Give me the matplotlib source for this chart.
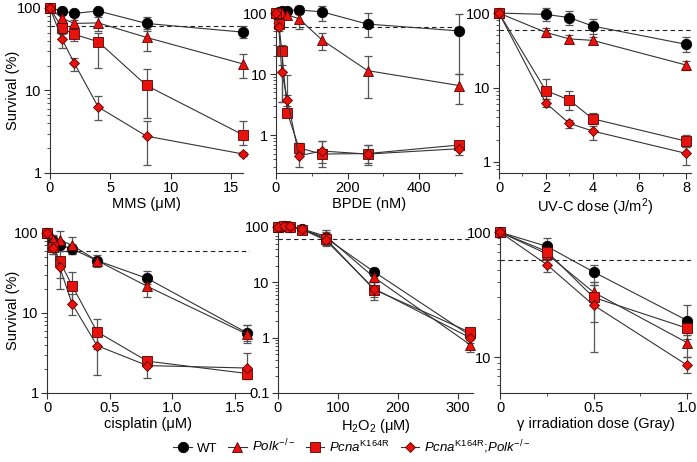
import matplotlib
matplotlib.use("Agg")
import matplotlib.pyplot as plt
import numpy as np
from matplotlib.lines import Line2D
from matplotlib.ticker import LogLocator, NullFormatter, FixedLocator

plt.rcParams['font.family'] = ['Liberation Sans', 'DejaVu Sans']
plt.rcParams['mathtext.fontset'] = 'custom'
plt.rcParams['mathtext.rm'] = 'Liberation Sans'
plt.rcParams['mathtext.it'] = 'Liberation Sans:italic'
plt.rcParams['mathtext.bf'] = 'Liberation Sans:bold'

genotypes = ['WT', 'Polk', 'Pcna', 'Double']

# ---- MMS ----
mms_x = [0, 1, 2, 4, 8, 16]
mms_wt = [100, 92, 86, 92, 65, 51]
mms_wt_lo = [100, 88, 80, 85, 52, 43]
mms_wt_hi = [100, 96, 92, 98, 78, 60]
mms_polk = [100, 75, 65, 66, 44, 21]
mms_polk_lo = [100, 68, 58, 52, 30, 14]
mms_polk_hi = [100, 82, 72, 78, 55, 28]
mms_pcna = [100, 57, 48, 39, 11.5, 2.9]
mms_pcna_lo = [100, 48, 40, 19, 4.6, 2.2]
mms_pcna_hi = [100, 68, 58, 50, 18, 4.3]
mms_dbl = [100, 41.7, 21.7, 6.3, 2.8, 1.7]
mms_dbl_lo = [100, 33, 17, 4.4, 1.25, 1.6]
mms_dbl_hi = [100, 50, 25, 8.5, 4.3, 1.8]

# ---- BPDE ----
bpde_x = [0, 8, 16, 32, 64, 128, 256, 512]
bpde_wt = [100, 105, 108, 110, 112, 105, 66, 51]
bpde_wt_lo = [100, 98, 100, 100, 95, 75, 40, 10]
bpde_wt_hi = [100, 112, 116, 120, 130, 130, 100, 96]
bpde_polk = [100, 100, 100, 93, 81, 36.5, 11.4, 6.5]
bpde_polk_lo = [100, 94, 94, 80, 55, 25, 4, 3.3]
bpde_polk_hi = [100, 106, 106, 105, 100, 48, 20, 10]
bpde_pcna = [100, 67, 24, 2.3, 0.62, 0.49, 0.5, 0.69]
bpde_pcna_lo = [100, 55, 3.5, 2.0, 0.5, 0.35, 0.35, 0.6]
bpde_pcna_hi = [100, 80, 30, 9.5, 0.75, 0.8, 0.7, 0.75]
bpde_dbl = [100, 58, 11, 3.8, 0.46, 0.55, 0.49, 0.6]
bpde_dbl_lo = [100, 50, 3.5, 3.0, 0.3, 0.3, 0.33, 0.47]
bpde_dbl_hi = [100, 68, 14, 4.5, 0.6, 0.8, 0.7, 0.72]

# ---- UV-C ----
uv_x = [0, 2, 3, 4, 8]
uv_wt = [100, 96, 87, 67, 38]
uv_wt_lo = [100, 78, 70, 52, 30]
uv_wt_hi = [100, 118, 105, 84, 47]
uv_polk = [100, 55, 45, 43, 20]
uv_polk_lo = [100, 48, 40, 38, 17]
uv_polk_hi = [100, 63, 50, 48, 23]
uv_pcna = [100, 9.1, 6.8, 3.8, 1.9]
uv_pcna_lo = [100, 7.0, 5.0, 3.2, 1.6]
uv_pcna_hi = [100, 13, 9.0, 4.6, 2.3]
uv_dbl = [100, 6.2, 3.3, 2.6, 1.3]
uv_dbl_lo = [100, 5.5, 2.9, 2.0, 0.9]
uv_dbl_hi = [100, 7.0, 3.7, 3.0, 1.6]

# ---- cisplatin ----
cis_x = [0, 0.05, 0.1, 0.2, 0.4, 0.8, 1.6]
cis_wt = [100, 79, 71, 63, 45, 27, 5.6]
cis_wt_lo = [100, 65, 60, 55, 40, 23, 4.5]
cis_wt_hi = [100, 92, 82, 72, 50, 33, 7.0]
cis_polk = [100, 85, 82, 70, 45, 21.5, 5.4]
cis_polk_lo = [100, 75, 60, 55, 38, 16, 4.2]
cis_polk_hi = [100, 95, 105, 90, 53, 27, 7.0]
cis_pcna = [100, 67, 45, 22, 5.8, 2.5, 1.75]
cis_pcna_lo = [100, 55, 20, 13, 3.5, 2.2, 1.5]
cis_pcna_hi = [100, 80, 60, 32, 8.3, 2.8, 2.0]
cis_dbl = [100, 65, 38, 13, 3.9, 2.2, 2.05]
cis_dbl_lo = [100, 55, 27, 9.5, 1.7, 1.55, 1.5]
cis_dbl_hi = [100, 75, 48, 17, 5.5, 2.6, 3.2]

# ---- H2O2 ----
h2o2_x = [0, 10, 20, 40, 80, 160, 320]
h2o2_wt = [100, 102, 101, 91, 63, 15.5, 1.1]
h2o2_wt_lo = [100, 96, 96, 85, 50, 13, 0.9]
h2o2_wt_hi = [100, 108, 106, 97, 80, 18, 1.4]
h2o2_polk = [100, 104, 102, 92, 68, 12.3, 0.75]
h2o2_polk_lo = [100, 98, 97, 86, 55, 10, 0.55]
h2o2_polk_hi = [100, 110, 107, 98, 90, 15, 0.95]
h2o2_pcna = [100, 103, 101, 90, 61, 7.4, 1.25]
h2o2_pcna_lo = [100, 97, 96, 84, 48, 4.7, 1.0]
h2o2_pcna_hi = [100, 109, 106, 96, 78, 10, 1.45]
h2o2_dbl = [100, 104, 102, 91, 57, 7.7, 1.0]
h2o2_dbl_lo = [100, 98, 97, 85, 45, 5.5, 0.8]
h2o2_dbl_hi = [100, 110, 107, 97, 72, 10, 1.25]

# ---- gamma ----
gam_x = [0, 0.25, 0.5, 1.0]
gam_wt = [100, 77, 48, 19.6]
gam_wt_lo = [100, 70, 40, 14]
gam_wt_hi = [100, 90, 55, 26]
gam_polk = [100, 67, 33, 13]
gam_polk_lo = [100, 60, 28, 10]
gam_polk_hi = [100, 75, 38, 15]
gam_pcna = [100, 70, 30, 17]
gam_pcna_lo = [100, 63, 19, 15]
gam_pcna_hi = [100, 78, 40, 19]
gam_dbl = [100, 55, 26, 8.6]
gam_dbl_lo = [100, 48, 11, 7.5]
gam_dbl_hi = [100, 62, 38, 10]

styles = {
    'WT': dict(marker='o', mfc='black', mec='black', ms=7.5),
    'Polk': dict(marker='^', mfc='#e8120c', mec='#5a0000', ms=7.5),
    'Pcna': dict(marker='s', mfc='#e8120c', mec='#5a0000', ms=7.5),
    'Double': dict(marker='D', mfc='#e8120c', mec='#5a0000', ms=5.2),
}

W, H = 697, 462
fig = plt.figure(figsize=(W / 100, H / 100), dpi=100)

def add_ax(left, right, top, bottom):
    return fig.add_axes([left / W, 1 - bottom / H, (right - left) / W, (bottom - top) / H])

panels = [
    dict(pos=(50, 243, 8, 173), x=mms_x,
         data=[(mms_wt, mms_wt_lo, mms_wt_hi), (mms_polk, mms_polk_lo, mms_polk_hi),
               (mms_pcna, mms_pcna_lo, mms_pcna_hi), (mms_dbl, mms_dbl_lo, mms_dbl_hi)],
         xlim=(0, 16), ylim=(1, 100), xticks=[0, 5, 10, 15], xminor=[],
         xticklabels=['0', '5', '10', '15'], yticks=[1, 10, 100],
         xlabel='MMS (μM)', ylabel='Survival (%)'),
    dict(pos=(276, 462, 8, 173), x=bpde_x,
         data=[(bpde_wt, bpde_wt_lo, bpde_wt_hi), (bpde_polk, bpde_polk_lo, bpde_polk_hi),
               (bpde_pcna, bpde_pcna_lo, bpde_pcna_hi), (bpde_dbl, bpde_dbl_lo, bpde_dbl_hi)],
         xlim=(0, 520), ylim=(0.24, 121), xticks=[0, 200, 400], xminor=[100, 300, 500],
         xticklabels=['0', '200', '400'], yticks=[1, 10, 100],
         xlabel='BPDE (nM)', ylabel=None),
    dict(pos=(499, 691, 8, 173), x=uv_x,
         data=[(uv_wt, uv_wt_lo, uv_wt_hi), (uv_polk, uv_polk_lo, uv_polk_hi),
               (uv_pcna, uv_pcna_lo, uv_pcna_hi), (uv_dbl, uv_dbl_lo, uv_dbl_hi)],
         xlim=(0, 8.2), ylim=(0.71, 117), xticks=[0, 2, 4, 6, 8], xminor=[1, 3, 5, 7],
         xticklabels=['0', '2', '4', '6', '8'], yticks=[1, 10, 100],
         xlabel='UV-C dose (J/m$^2$)', ylabel=None),
    dict(pos=(47, 250, 228, 393), x=cis_x,
         data=[(cis_wt, cis_wt_lo, cis_wt_hi), (cis_polk, cis_polk_lo, cis_polk_hi),
               (cis_pcna, cis_pcna_lo, cis_pcna_hi), (cis_dbl, cis_dbl_lo, cis_dbl_hi)],
         xlim=(0, 1.62), ylim=(1, 115), xticks=[0, 0.5, 1.0, 1.5], xminor=[],
         xticklabels=['0', '0.5', '1.0', '1.5'], yticks=[1, 10, 100],
         xlabel='cisplatin (μM)', ylabel='Survival (%)'),
    dict(pos=(278, 473, 222, 393), x=h2o2_x,
         data=[(h2o2_wt, h2o2_wt_lo, h2o2_wt_hi), (h2o2_polk, h2o2_polk_lo, h2o2_polk_hi),
               (h2o2_pcna, h2o2_pcna_lo, h2o2_pcna_hi), (h2o2_dbl, h2o2_dbl_lo, h2o2_dbl_hi)],
         xlim=(0, 325), ylim=(0.1, 123), xticks=[0, 100, 200, 300], xminor=[],
         xticklabels=['0', '100', '200', '300'], yticks=[0.1, 1, 10, 100],
         xlabel='H$_2$O$_2$ (μM)', ylabel=None),
    dict(pos=(500, 691, 228, 393), x=gam_x,
         data=[(gam_wt, gam_wt_lo, gam_wt_hi), (gam_polk, gam_polk_lo, gam_polk_hi),
               (gam_pcna, gam_pcna_lo, gam_pcna_hi), (gam_dbl, gam_dbl_lo, gam_dbl_hi)],
         xlim=(0, 1.02), ylim=(5.15, 108), xticks=[0, 0.5, 1.0], xminor=[0.25, 0.75],
         xticklabels=['0', '0.5', '1.0'], yticks=[10, 100],
         xlabel='γ irradiation dose (Gray)', ylabel=None),
]

spine_col = '#333333'
for p in panels:
    ax = add_ax(*p['pos'])
    ax.set_yscale('log')
    ax.set_xlim(*p['xlim'])
    ax.set_ylim(*p['ylim'])
    ax.axhline(60, color='#222222', lw=0.8, ls=(0, (4, 3)), zorder=1)
    for g, (v, lo, hi) in zip(genotypes, p['data']):
        v = np.array(v, float); lo = np.array(lo, float); hi = np.array(hi, float)
        ax.errorbar(p['x'], v, yerr=[v - lo, hi - v], fmt='none', ecolor='#555555',
                    elinewidth=0.9, capsize=3, capthick=0.9, zorder=2, clip_on=False)
        ax.plot(p['x'], v, color='#333333', lw=0.8, zorder=3, clip_on=False,
                mew=0.6, **styles[g])
    for s in ['top', 'right']:
        ax.spines[s].set_visible(False)
    for s in ['left', 'bottom']:
        ax.spines[s].set_color(spine_col)
        ax.spines[s].set_linewidth(0.8)
    ax.set_xticks(p['xticks'])
    ax.set_xticklabels(p['xticklabels'])
    ax.xaxis.set_minor_locator(FixedLocator(p['xminor']))
    ax.set_yticks(p['yticks'])
    ax.set_yticklabels([('%g' % t) for t in p['yticks']])
    ax.yaxis.set_minor_locator(LogLocator(base=10, subs=np.arange(2, 10)))
    ax.yaxis.set_minor_formatter(NullFormatter())
    ax.tick_params(which='major', length=4, width=0.8, color=spine_col, labelsize=10.5, pad=2)
    ax.tick_params(which='minor', length=2, width=0.6, color=spine_col)
    ax.set_xlabel(p['xlabel'], fontsize=10.5, labelpad=1)
    if p['ylabel']:
        ax.set_ylabel(p['ylabel'], fontsize=10.5)
        left_px = p['pos'][0]
        ax.yaxis.set_label_coords(-(left_px - 20) / (p['pos'][1] - p['pos'][0]), 0.5)

handles = [Line2D([0], [0], color='#333333', lw=0.8, mew=0.6, **styles[g]) for g in genotypes]
labels = ['WT', r'$\mathit{Polk}^{\mathit{-/-}}$', r'$\mathit{Pcna}^{\mathrm{K164R}}$',
          r'$\mathit{Pcna}^{\mathrm{K164R}}$;$\mathit{Polk}^{\mathit{-/-}}$']
fig.legend(handles, labels, loc='center', bbox_to_anchor=(352 / W, 1 - 447 / H), ncol=4,
           frameon=False, fontsize=9.5, handlelength=1.4, handletextpad=0.4, columnspacing=0.8)

fig.savefig('out.png', dpi=100)
